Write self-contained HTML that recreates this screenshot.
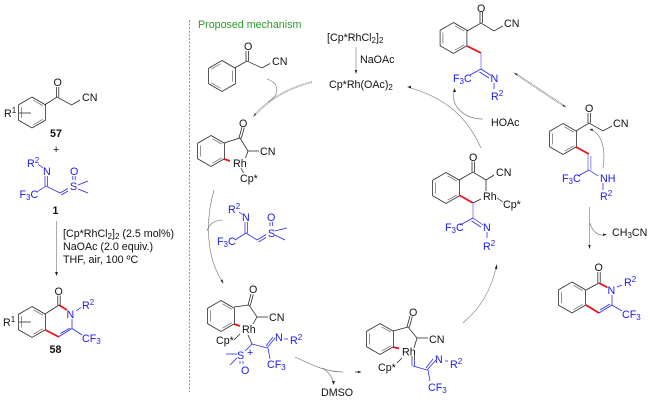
<!DOCTYPE html>
<html><head><meta charset="utf-8"><style>
html,body{margin:0;padding:0;background:#fff}
svg{display:block}
text{font-family:"Liberation Sans",Arial,sans-serif;font-size:10.7px;fill:#111}
.b text,text.b{fill:#1a1aee}
.k{font-weight:bold}
.l{fill:none;stroke:#222;stroke-width:.75}
.u{fill:none;stroke:#2424ee;stroke-width:.75}
.lb{fill:none;stroke:#a8a8f4;stroke-width:1.3}
.r{fill:none;stroke:#e8101a;stroke-width:1.8}
.a{fill:none;stroke:#666;stroke-width:.55}
.h{fill:#222}
</style></head><body>
<svg width="650" height="402" viewBox="0 0 650 402" xmlns="http://www.w3.org/2000/svg">
<defs>
<g id="r"><path class="l" d="M0-15.5 13.4-7.75V7.75L0 15.5-13.4 7.75V-7.75Z"/><path d="M-10.6-5.5V5.5M1.5-12.2 10.8-6.9M1.5 12.200 10.800 6.900" fill="none" stroke="#777" stroke-width=".8"/></g>
<g id="r2"><path class="l" d="M0-15.5 13.4-7.75V7.75L0 15.5-13.4 7.75V-7.75Z"/><path d="M10.600-5.500V5.500M-1.500-12.200-10.800-6.900M-1.500 12.200-10.800 6.900" fill="none" stroke="#777" stroke-width=".8"/></g>
</defs>

<!-- divider -->
<path d="M189.500 20V392" stroke="#777" stroke-width=".8" stroke-dasharray="2 1.600" fill="none"/>

<!-- 57 -->
<use href="#r" x="32" y="112.500"/>
<path class="l" d="M44.500 105 57 97 71.500 105 80 100M56.500 97V87M58.800 97V87M19 113H31"/>
<text x="53.500" y="86">O</text><text x="82" y="101">CN</text>
<text x="4" y="117">R<tspan dy="-4" font-size="8">1</tspan></text>
<text class="k" x="50" y="137">57</text>
<text x="53" y="153">+</text>

<!-- 1 -->
<g class="b">
<text x="27" y="167">R<tspan dy="-4" font-size="8">2</tspan></text>
<text x="43" y="175">N</text>
<text x="19.500" y="198">F<tspan dy="2" font-size="8">3</tspan><tspan dy="-2">C</tspan></text>
<text x="70" y="190">S</text><text x="70" y="175">O</text>
</g>
<path class="u" d="M38 164 43 168M37 192 46 186 60 193M45 186V176M47.400 186V176M60 193 68 188.500M61.300 195 68 191M72.800 180V176M75.200 180V176M78 185 88 181M78 189 88 193"/>
<text class="k" x="52.500" y="214">1</text>

<!-- conditions -->
<path class="a" d="M56.500 221V272" stroke="#444"/><path class="h" d="M55 272H58L56.500 276Z"/>
<text x="63" y="237">[Cp*RhCl<tspan dy="2" font-size="8">2</tspan><tspan dy="-2">]</tspan><tspan dy="2" font-size="8">2</tspan><tspan dy="-2"> (2.5 mol%)</tspan></text>
<text x="63" y="250">NaOAc (2.0 equiv.)</text>
<text x="63" y="263">THF, air, 100 ºC</text>

<!-- 58 -->
<use href="#r" x="32" y="322"/>
<path class="l" d="M45 314 59 305M57.800 305V295.500M60.200 305V295.500M19 322H31"/>
<path class="r" d="M59 305 67 310M45.500 330 59 337"/>
<path class="u" d="M59 336.500 72 328.500M60.500 333.500 70 328M72 319V328.500L82 335M76 311 81 307.500"/>
<text x="54.500" y="295">O</text>
<text x="3" y="326">R<tspan dy="-4" font-size="8">1</tspan></text>
<text class="k" x="49.500" y="353">58</text>
<g class="b">
<text x="66.500" y="318">N</text>
<text x="82" y="309">R<tspan dy="-4" font-size="8">2</tspan></text>
<text x="82" y="342">CF<tspan dy="2" font-size="8">3</tspan></text>
</g>

<text x="198" y="28" style="fill:#2a9a2a">Proposed mechanism</text>

<!-- top phenyl ketone -->
<use href="#r2" x="222" y="76"/>
<path class="l" d="M234.500 68 247 61 262 68 270 63.500M246 61V51M248.400 61V51"/>
<text x="244" y="50">O</text><text x="272" y="65">CN</text>

<!-- Rh reagents -->
<text x="327" y="41">[Cp*RhCl<tspan dy="2" font-size="8">2</tspan><tspan dy="-2">]</tspan><tspan dy="2" font-size="8">2</tspan></text>
<path class="a" d="M356 47V70"/><path class="h" d="M354.800 70H357.200L356 74Z"/>
<text x="360" y="63">NaOAc</text>
<text x="329" y="88">Cp*Rh(OAc)<tspan dy="2" font-size="8">2</tspan></text>

<!-- regeneration arrow -->
<path d="M312 82C288 88 268 100 255 115" fill="none" stroke="#aaa" stroke-width="2" stroke-dasharray="1 .6"/>
<path class="h" d="M253 117 256 114.500 255 113Z"/>
<path class="a" d="M267 79C279 83 281 94 268 102"/>

<!-- A -->
<use href="#r" x="211" y="151"/>
<path class="l" d="M224 143 240 138 248 151 259 151M239 138 242 127M241.300 138.500 244.300 127.500M248 151 245.500 158M241 168 243.500 173"/>
<path class="r" d="M224 159 230 161"/>
<text x="239" y="127">O</text><text x="260" y="155">CN</text>
<text x="233" y="167">Rh</text><text x="240" y="182">Cp*</text>

<!-- arrow to B -->
<path class="a" d="M214 190C204 225 208 260 222 281"/><path class="h" d="M223.500 284 220.500 280.500 222.500 279.500Z"/>
<path class="a" d="M223 220C215 220 209 224 207 231"/>

<!-- ylide reagent -->
<g class="b">
<text x="228" y="213">R<tspan dy="-4" font-size="8">2</tspan></text>
<text x="242" y="221">N</text>
<text x="217" y="245">F<tspan dy="2" font-size="8">3</tspan><tspan dy="-2">C</tspan></text>
<text x="268" y="237">S</text><text x="267" y="221">O</text>
</g>
<path class="u" d="M239 212 242.500 214.500M235 240 246 233 257 240M245 233V222M247.400 233V222M257 240 266 234.500M258.500 242 266 237.500M270 226V222M272.400 226V222M275 231 287 228M275 235 285 240"/>

<!-- B -->
<use href="#r" x="221" y="316"/>
<path class="l" d="M234 307 249 305 257 317 268 317M248 305 251 294M250.300 305.500 253.300 294.500M257 317 253 324M248 335 252 344M234 340 240 334"/>
<path class="r" d="M234 324 240 326"/>
<text x="249" y="293">O</text><text x="269" y="321">CN</text>
<text x="242" y="333">Rh</text><text x="216" y="344">Cp*</text>
<g class="b">
<text x="237" y="359">S</text><text x="247" y="356" font-size="7">+</text>
<text x="241" y="374">O</text>
<text x="275" y="341">N</text>
<text x="290" y="344">R<tspan dy="-4" font-size="8">2</tspan></text>
<text x="267" y="368">CF<tspan dy="2" font-size="8">3</tspan></text>
</g>
<path class="u" d="M252 344 245 351M252 344 267 348 275 338M266 346 273 337M268 348 270 359M226 354H237M230 365 237 358M240 361V364M243 361V364M284 339H288"/>

<!-- DMSO -->
<path class="a" d="M295 357C310 364 325 372 343 372"/><path class="l" d="M355 372H360"/><path class="h" d="M361.500 372 358 370.800V373.200Z"/>
<path class="a" d="M323 368C328 372 332 376 333 381"/><path class="h" d="M333.500 385 332 381H335Z"/>
<text x="321" y="396">DMSO</text>

<!-- C -->
<use href="#r" x="380" y="339"/>
<path class="l" d="M393 331 408 327 417 338 428 338M407 327 410 316M409.300 327.500 412.300 316.500M417 338 414 348M397 363 402 358M412 356V360M414.500 356V360"/>
<path class="r" d="M393 347 399 348.500"/>
<text x="409" y="316">O</text><text x="429" y="343">CN</text>
<text x="402" y="355.500">Rh</text><text x="378" y="371">Cp*</text>
<g class="b">
<text x="435" y="363">N</text>
<text x="450" y="368">R<tspan dy="-4" font-size="8">2</tspan></text>
<text x="428" y="391">CF<tspan dy="2" font-size="8">3</tspan></text>
</g>
<path class="u" d="M412 360V366M414.500 360V366M413 366 427 370 436 360M426 368 433 359M428 370 430 381M445 361H448"/>

<path class="a" d="M463 323C481 308 491 290 496 268"/><path class="h" d="M497 264 494.800 268.500 497.200 269.500Z"/>

<!-- D -->
<use href="#r" x="446" y="188"/>
<path class="l" d="M459 180 473 172 486 180 494 175M472 172V161.500M474.400 172V161.500M486 180V191M473 203 481 199M497 198 503 202"/>
<path class="r" d="M459 195 473 203"/>
<path class="lb" d="M473 203V218"/>
<path class="u" d="M473 218 460 225M473 218 483 225M471.500 221 481 227M487 232V238"/>
<text x="469" y="161">O</text><text x="496" y="176">CN</text>
<text x="483" y="200">Rh</text><text x="503" y="208">Cp*</text>
<g class="b">
<text x="445" y="231">F<tspan dy="2" font-size="8">3</tspan><tspan dy="-2">C</tspan></text>
<text x="483" y="231">N</text>
<text x="483" y="250">R<tspan dy="-4" font-size="8">2</tspan></text>
</g>

<!-- big arrow D to Cp*Rh(OAc)2 -->
<path class="a" d="M481 148C467 117 446 98 409 87.500"/><path class="h" d="M407 87 411 85.800 411 88.200Z"/>
<path class="a" d="M483 119C466 119 451 108 454 92"/><path class="h" d="M454.500 88 453 92H456Z"/>
<text x="491" y="126">HOAc</text>

<!-- E -->
<use href="#r" x="453.500" y="38"/>
<path class="l" d="M467 31 481 23 494 31 503 26M480 23V12M482.400 23V12"/>
<path class="r" d="M467 46 481 53"/>
<path class="lb" d="M481 53V69"/>
<path class="u" d="M481 69 470 75M481 69 491 75.500M479.500 72 489 78M494 83V89"/>
<text x="477" y="12">O</text><text x="504" y="27">CN</text>
<g class="b">
<text x="453" y="82">F<tspan dy="2" font-size="8">3</tspan><tspan dy="-2">C</tspan></text>
<text x="490.500" y="82">N</text>
<text x="491" y="100">R<tspan dy="-4" font-size="8">2</tspan></text>
</g>

<!-- equilibrium -->
<path d="M516 74 564 106" fill="none" stroke="#999" stroke-width="2" stroke-dasharray="1 .6"/>
<path class="h" d="M513.500 72.500 517.500 74 516.500 75.500ZM566.500 107.500 562.500 106 563.500 104.500Z"/>

<!-- F -->
<use href="#r" x="563" y="139"/>
<path class="l" d="M576 131 589 123 603 131 612 126M588 123V113M590.400 123V113"/>
<path class="r" d="M576 147 589 154"/>
<path class="lb" d="M588 154.500V170M590.800 156V170"/>
<path class="u" d="M589 170 578 176M589 170 598 176M603 183V190"/>
<text x="585" y="112">O</text><text x="613" y="127">CN</text>
<g class="b">
<text x="562" y="182">F<tspan dy="2" font-size="8">3</tspan><tspan dy="-2">C</tspan></text>
<text x="600" y="182">NH</text>
<text x="600" y="200">R<tspan dy="-4" font-size="8">2</tspan></text>
</g>
<path class="a" d="M603 168C606 150 602 135 592 130"/><path class="h" d="M589.500 129 593 128.800 592.300 131.200Z"/>

<!-- arrow to product -->
<path class="a" d="M589.500 207V245"/><path class="h" d="M588.300 245H590.700L589.500 249Z"/>
<path class="a" d="M590 223C592 231 598 236 604 235"/><path class="h" d="M607 234.500 603 233.500V236Z"/>
<text x="612" y="236">CH<tspan dy="2" font-size="8">3</tspan><tspan dy="-2">CN</tspan></text>

<!-- product -->
<use href="#r" x="572" y="297.500"/>
<path class="l" d="M586 290 599 283M597.800 283 597.800 272M600.200 283 600.200 272"/>
<path class="r" d="M599 283 607.500 287.500M586 305 599 313"/>
<path class="u" d="M599 313 612 305M600 310 610 304M612 295V305L622 311M617 287 622 285"/>
<text x="594.500" y="271">O</text>
<g class="b">
<text x="607.500" y="294">N</text>
<text x="624" y="286">R<tspan dy="-4" font-size="8">2</tspan></text>
<text x="622" y="318">CF<tspan dy="2" font-size="8">3</tspan></text>
</g>
</svg>
</body></html>
